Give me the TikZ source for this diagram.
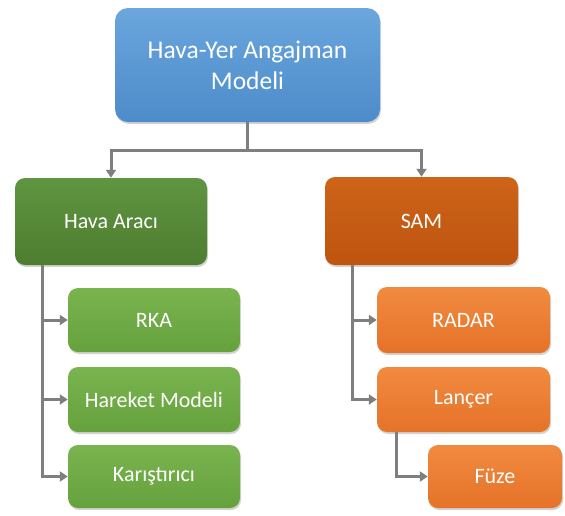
\documentclass[tikz,border=0pt]{standalone}
\usepackage{fontspec}
\setmainfont{Carlito}
\usetikzlibrary{arrows.meta}
\usetikzlibrary{shadows}

\definecolor{conngray}{HTML}{7F7F7F}
\definecolor{topblue}{HTML}{6BA6DD}
\definecolor{botblue}{HTML}{4C8CCA}
\definecolor{dg1}{HTML}{5F9541}
\definecolor{dg2}{HTML}{4E7D2F}
\definecolor{lg1}{HTML}{79B44F}
\definecolor{lg2}{HTML}{65A13D}
\definecolor{do1}{HTML}{CD6419}
\definecolor{do2}{HTML}{BE540F}
\definecolor{lo1}{HTML}{F18A40}
\definecolor{lo2}{HTML}{E57328}

\begin{document}
\begin{tikzpicture}[x=1pt,y=-1pt,
        conn/.style={draw=conngray,line width=3pt,
            -{Triangle[length=8pt,width=10pt]}},
        box/.style={rounded corners=10pt,text=white,align=center,
            font=\fontsize{22}{26}\selectfont,
            drop shadow={opacity=0.35,shadow xshift=1pt,shadow yshift=-2pt}},
        topbox/.style={box,rounded corners=13pt,top color=topblue,
            bottom color=botblue,font=\fontsize{25.5}{31}\selectfont},
        greenbig/.style={box,top color=dg1,bottom color=dg2},
        greensmall/.style={box,top color=lg1,bottom color=lg2},
        orangebig/.style={box,top color=do1,bottom color=do2},
        orangesmall/.style={box,top color=lo1,bottom color=lo2},
    ]
        \useasboundingbox (0,0) rectangle (565,515);

        % model
        \node (model) at (247.5,65) [topbox,minimum width=265pt,minimum height=114pt]
            {Hava-Yer Angajman\\Modeli};
        \coordinate (split) at (247.5,150);

        % aircraft
        \node (ucak) at (111,221.5) [greenbig,minimum width=192pt,minimum height=87pt]
            {Hava Aracı};
        \node (rka)     at (154,320)   [greensmall,minimum width=172pt,minimum height=64pt] {RKA};
        \node (hareket) at (154,399.5) [greensmall,minimum width=172pt,minimum height=65pt] {Hareket Modeli};
        \node (karis)   at (154,476.5) [greensmall,minimum width=172pt,minimum height=63pt] {Karıştırıcı};

        % sam
        \node (sam) at (421.5,221) [orangebig,minimum width=193pt,minimum height=88pt]
            {SAM};
        \node (radar)  at (463.5,320)   [orangesmall,minimum width=173pt,minimum height=66pt] {RADAR};
        \node (lancer) at (463.5,399.5) [orangesmall,minimum width=173pt,minimum height=65pt] {Lançer};
        \node (fuze)   at (495,476.5)   [orangesmall,minimum width=134pt,minimum height=63pt] {Füze};

        % connectors
        \draw[conn,-] (model.south) -- (split);
        \draw[conn] (split) -| (ucak.north);
        \draw[conn] (split) -| (sam.north);

        \draw[conn] ([xshift=28pt]ucak.south west) |- (rka.west);
        \draw[conn] ([xshift=28pt]ucak.south west) |- (hareket.west);
        \draw[conn] ([xshift=28pt]ucak.south west) |- (karis.west);

        \draw[conn] ([xshift=28pt]sam.south west) |- (radar.west);
        \draw[conn] ([xshift=28pt]sam.south west) |- (lancer.west);
        \draw[conn] ([xshift=20pt]lancer.south west) |- (fuze.west);
    \end{tikzpicture}
\end{document}
